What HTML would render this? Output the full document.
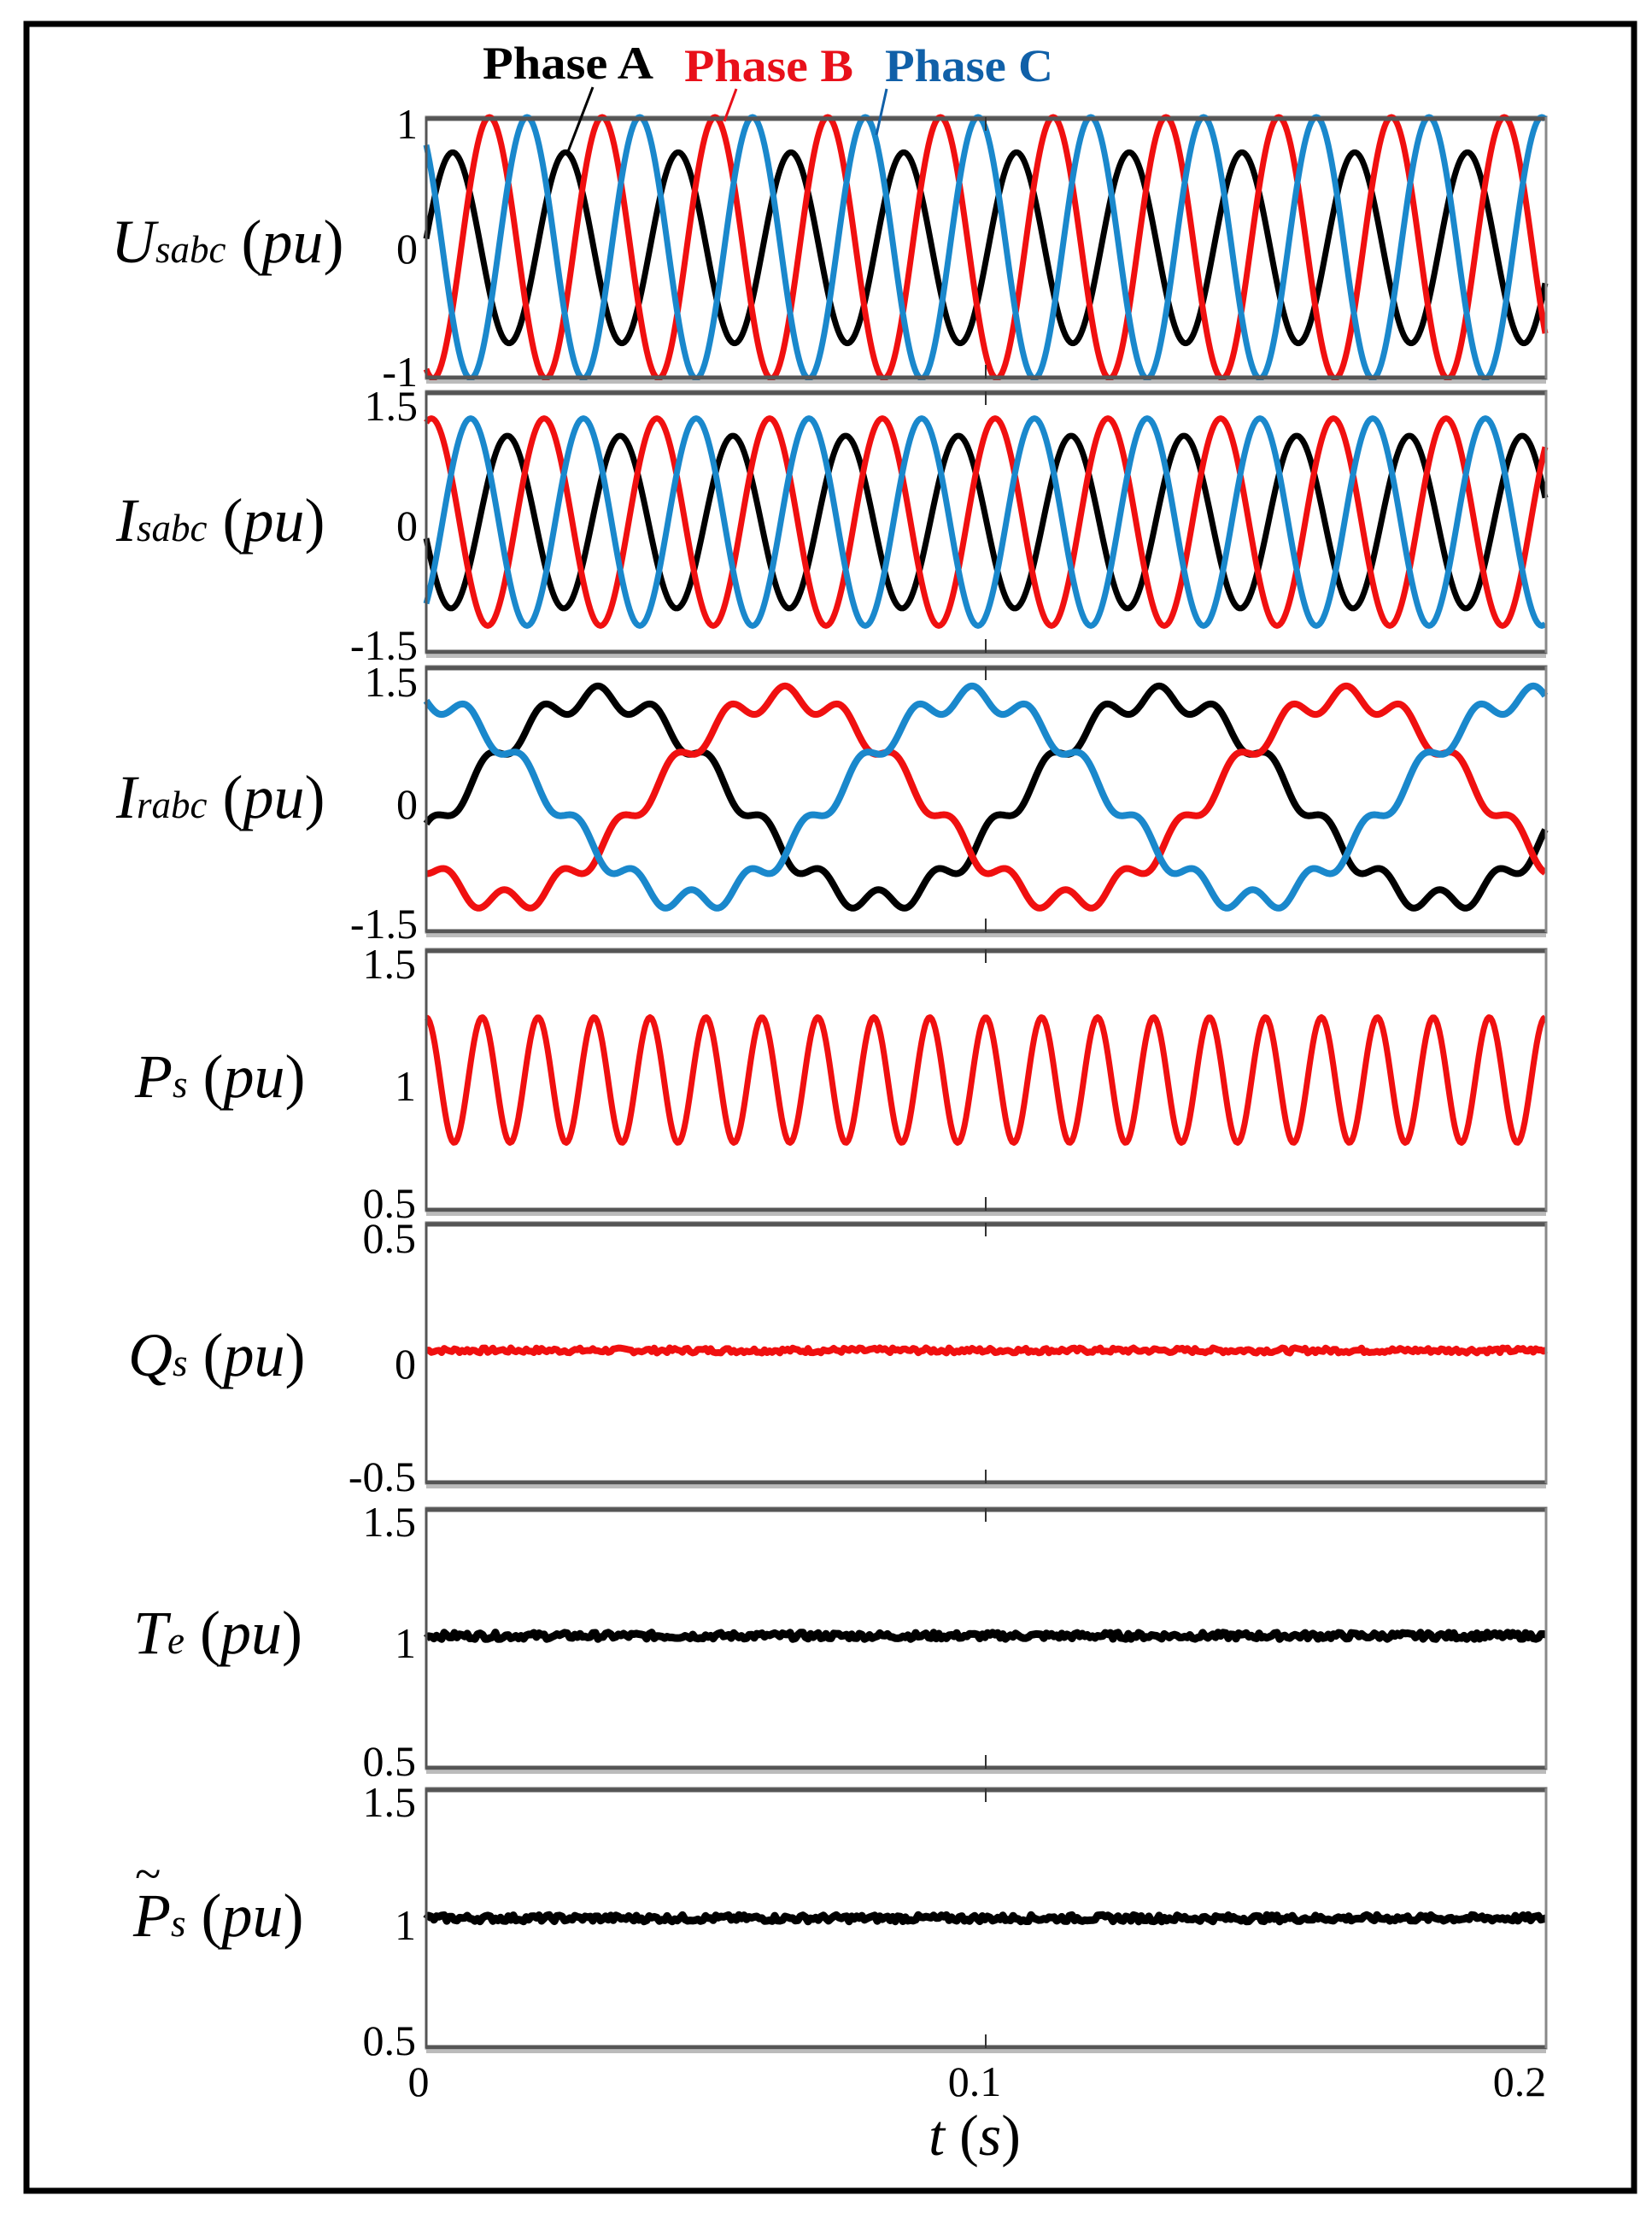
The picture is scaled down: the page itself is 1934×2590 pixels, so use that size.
<!DOCTYPE html>
<html><head><meta charset="utf-8"><style>
html,body{margin:0;padding:0;background:#fff;}
svg{display:block;}
text{font-family:"Liberation Serif",serif;}
</style></head><body>
<svg id="s" width="1934" height="2590" viewBox="0 0 1934 2590" xmlns="http://www.w3.org/2000/svg">
<rect x="0" y="0" width="1934" height="2590" fill="#fff"/>
<rect x="31" y="28" width="1882" height="2536" fill="none" stroke="#000" stroke-width="7"/>
<g id="plots"></g>
<g font-size="50" text-anchor="end" fill="#000">
<text x="489" y="162">1</text><text x="489" y="308">0</text><text x="489" y="452">-1</text>
<text x="489" y="492">1.5</text><text x="489" y="632">0</text><text x="489" y="772">-1.5</text>
<text x="489" y="815">1.5</text><text x="489" y="958">0</text><text x="489" y="1098">-1.5</text>
<text x="487" y="1145">1.5</text><text x="487" y="1288">1</text><text x="487" y="1425">0.5</text>
<text x="487" y="1466">0.5</text><text x="487" y="1613">0</text><text x="487" y="1745">-0.5</text>
<text x="487" y="1798">1.5</text><text x="487" y="1940">1</text><text x="487" y="2078">0.5</text>
<text x="487" y="2126">1.5</text><text x="487" y="2270">1</text><text x="487" y="2405">0.5</text>
</g>
<g font-size="50" text-anchor="middle">
<text x="490" y="2453">0</text><text x="1141" y="2453">0.1</text><text x="1779" y="2453">0.2</text>
</g>
<text x="1141" y="2522" font-size="68" text-anchor="middle" font-style="italic">t <tspan font-style="normal">(</tspan>s<tspan font-style="normal">)</tspan></text>
<g font-size="72" font-style="italic">
<text x="130" y="307">U<tspan font-size="45">sabc</tspan> <tspan font-style="normal">(</tspan>pu<tspan font-style="normal">)</tspan></text>
<text x="136" y="633">I<tspan font-size="45">sabc</tspan> <tspan font-style="normal">(</tspan>pu<tspan font-style="normal">)</tspan></text>
<text x="136" y="957">I<tspan font-size="45">rabc</tspan> <tspan font-style="normal">(</tspan>pu<tspan font-style="normal">)</tspan></text>
<text x="158" y="1284">P<tspan font-size="45">s</tspan> <tspan font-style="normal">(</tspan>pu<tspan font-style="normal">)</tspan></text>
<text x="150" y="1610">Q<tspan font-size="45">s</tspan> <tspan font-style="normal">(</tspan>pu<tspan font-style="normal">)</tspan></text>
<text x="156" y="1935">T<tspan font-size="45">e</tspan> <tspan font-style="normal">(</tspan>pu<tspan font-style="normal">)</tspan></text>
<text x="156" y="2266">P<tspan font-size="45">s</tspan> <tspan font-style="normal">(</tspan>pu<tspan font-style="normal">)</tspan></text>
<text x="158" y="2212" font-style="normal" font-size="56">~</text>
</g>
<g font-size="54" font-weight="bold">
<text x="565" y="92" fill="#000" textLength="200" lengthAdjust="spacingAndGlyphs">Phase A</text>
<text x="801" y="95" fill="#e8101a" textLength="198" lengthAdjust="spacingAndGlyphs">Phase B</text>
<text x="1036" y="95" fill="#1060a8" textLength="197" lengthAdjust="spacingAndGlyphs">Phase C</text>
</g>
<line x1="694" y1="102" x2="664" y2="180" stroke="#000" stroke-width="3"/>
<line x1="862" y1="104" x2="848" y2="142" stroke="#e8101a" stroke-width="3"/>
<line x1="1038" y1="104" x2="1026" y2="158" stroke="#1060a8" stroke-width="3"/>
</svg>
<script>
(function(){
var g=document.getElementById('plots');var NS='http://www.w3.org/2000/svg';
var X0=499,X1=1810;
var P=[[137,443],[458,764],[780,1091],[1111,1417],[1431,1736],[1765,2070],[2093,2397]];
function el(n,a){var e=document.createElementNS(NS,n);for(var k in a)e.setAttribute(k,a[k]);g.appendChild(e);return e;}
function path(f,top,bot,lo,hi,col,w,step){var d='';step=step||2;for(var x=X0;x<=X1;x+=step){var v=f(x);var y=bot-(v-lo)/(hi-lo)*(bot-top);d+=(x==X0?'M':'L')+x+' '+y.toFixed(1);}el('path',{d:d,fill:'none',stroke:col,'stroke-width':w,'stroke-linejoin':'round'});}
var R='#f01010',B='#1a88cc',K='#000';
var seed=7;function rnd(){seed=(seed*9301+49297)%233280;return seed/233280;}
P.forEach(function(p){
 el('rect',{x:X0,y:p[0],width:X1-X0,height:p[1]-p[0],fill:'#fff',stroke:'#777','stroke-width':3});
});
var T=2*Math.PI;
var p=P[0];
path(function(x){return 0.73*Math.cos(T*(x-530)/132);},p[0],p[1],-1,1,K,7);
path(function(x){return Math.cos(T*(x-573)/132);},p[0],p[1],-1,1,R,7);
path(function(x){return Math.cos(T*(x-617)/132);},p[0],p[1],-1,1,B,7);
p=P[1];
path(function(x){return 0.99*Math.cos(T*(x-594)/132);},p[0],p[1],-1.5,1.5,K,7);
path(function(x){return 1.19*Math.cos(T*(x-637)/132);},p[0],p[1],-1.5,1.5,R,7);
path(function(x){return 1.19*Math.cos(T*(x-551)/132);},p[0],p[1],-1.5,1.5,B,7);
p=P[2];
function ir(c){return function(x){var th=T*(x-c)/657;return 1.15*Math.cos(th)+0.13*Math.cos(10*th);};}
path(ir(700),p[0],p[1],-1.5,1.5,K,8);
path(ir(919),p[0],p[1],-1.5,1.5,R,8);
path(ir(481),p[0],p[1],-1.5,1.5,B,8);
p=P[3];
path(function(x){return 1+0.24*Math.cos(T*(x-499)/65.5);},p[0],p[1],0.5,1.5,R,7);
p=P[4];
path(function(x){return 0.01+(rnd()-0.5)*0.02;},p[0],p[1],-0.5,0.5,R,8,3);
p=P[5];
path(function(x){return 1.01+(rnd()-0.5)*0.025;},p[0],p[1],0.5,1.5,K,9,3);
p=P[6];
path(function(x){return 1.0+(rnd()-0.5)*0.025;},p[0],p[1],0.5,1.5,K,9,3);
P.forEach(function(p){
 el('line',{x1:X0,y1:p[0]+2,x2:X1,y2:p[0]+2,stroke:'#555','stroke-width':5});
 el('line',{x1:X0,y1:p[1]-1,x2:X1,y2:p[1]-1,stroke:'#555','stroke-width':5});
 el('line',{x1:X0,y1:p[1]+4,x2:X1,y2:p[1]+4,stroke:'#bbb','stroke-width':4});
 el('line',{x1:X0,y1:p[0],x2:X0,y2:p[1],stroke:'#555','stroke-width':3});
 el('line',{x1:X1,y1:p[0],x2:X1,y2:p[1],stroke:'#888','stroke-width':3});
 el('line',{x1:1154,y1:p[0],x2:1154,y2:p[0]+16,stroke:'#333','stroke-width':2});
 el('line',{x1:1154,y1:p[1]-16,x2:1154,y2:p[1],stroke:'#333','stroke-width':2});
});
})();
</script>
</body></html>
